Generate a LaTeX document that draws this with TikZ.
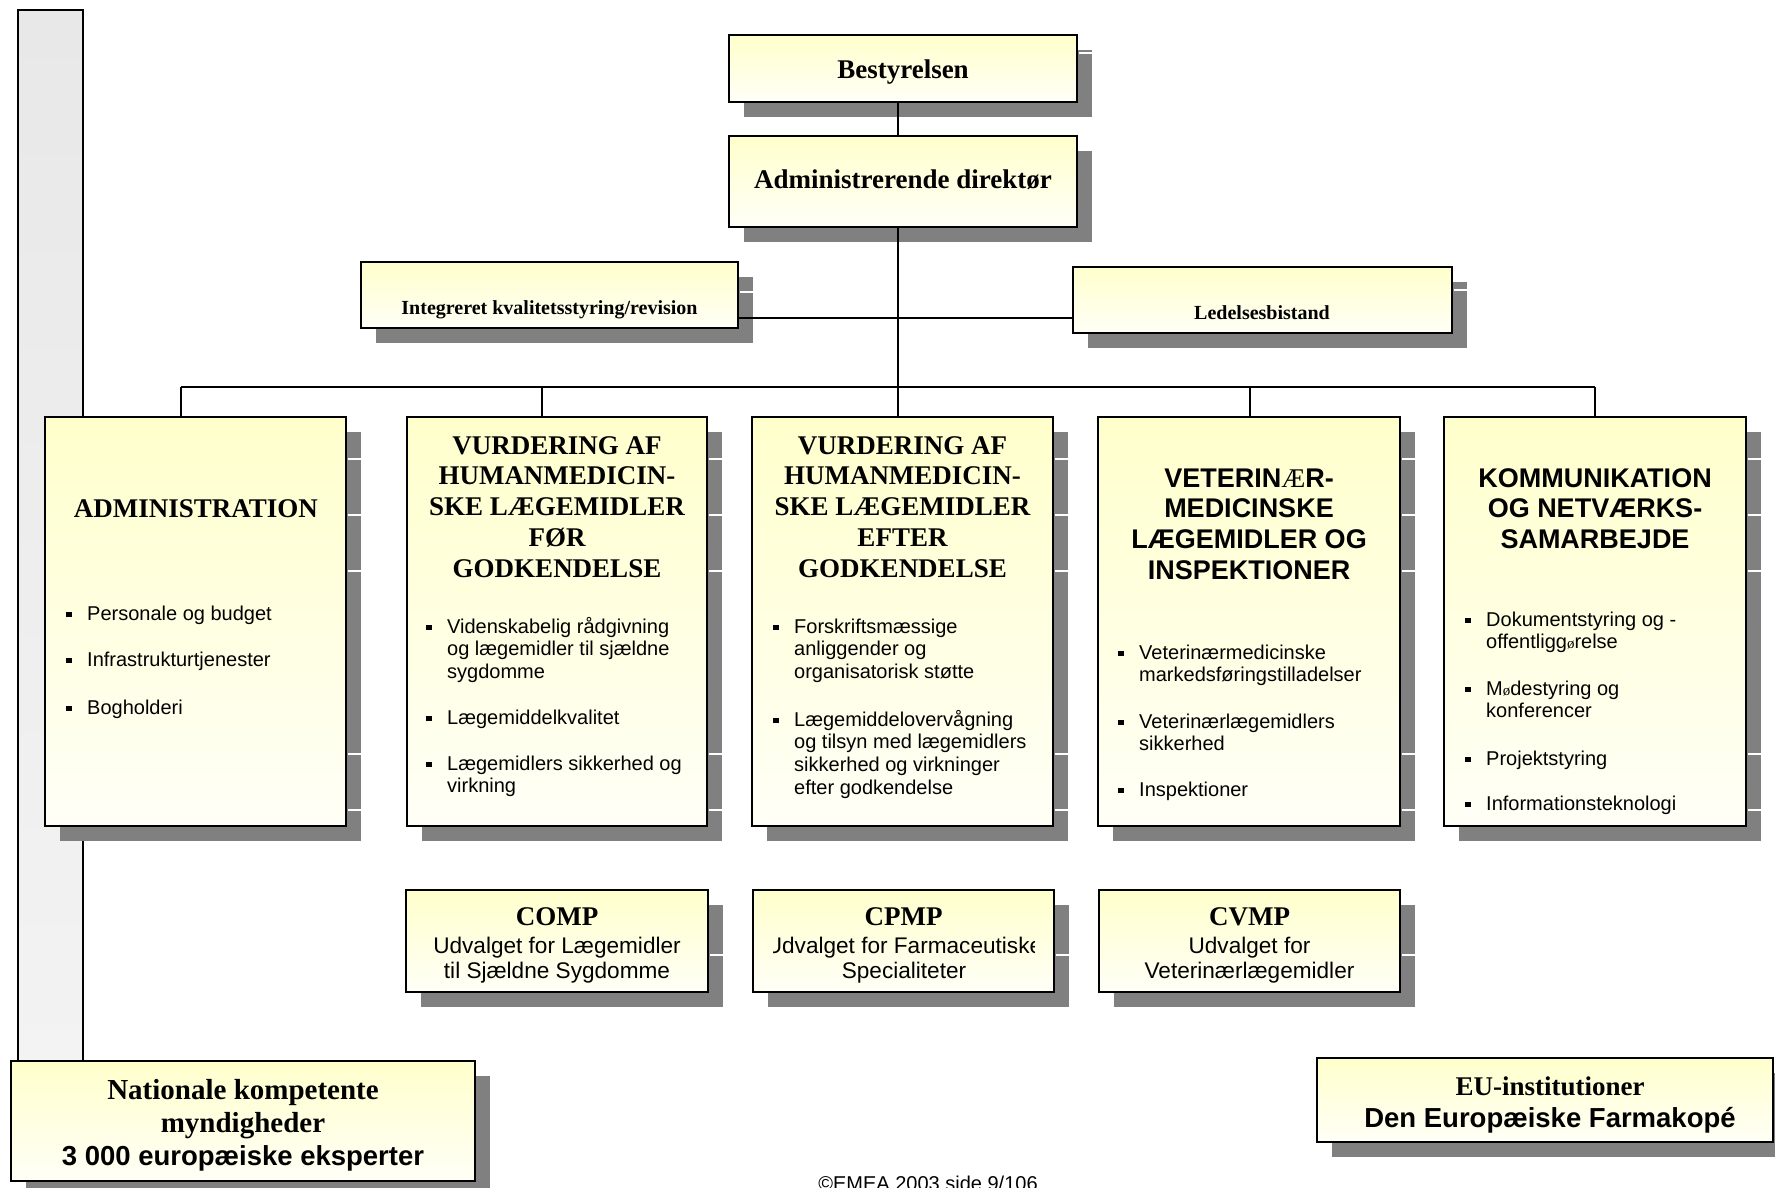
\documentclass[tikz,border=0pt]{standalone}
\usepackage{fontspec}
\setmainfont{Liberation Serif}
\newfontfamily\arial{Liberation Sans}
\usetikzlibrary{shadows}
\definecolor{boxtop}{RGB}{255,255,204}
\definecolor{boxbot}{RGB}{255,255,247}
\definecolor{shadowgray}{RGB}{128,128,128}
\definecolor{bartop}{RGB}{232,232,232}
\definecolor{barbot}{RGB}{243,243,243}
\newcommand\bul[1]{\makebox[21pt][l]{\rule[2.6pt]{5.5pt}{5.5pt}}\parbox[t]{280pt}{\raggedright #1}}
\newcommand\ctr[2]{\parbox[t]{#1}{\centering #2}}
\newcommand\smo{{\rmfamily\fontsize{15}{15}\selectfont ø}}
\begin{document}
\begin{tikzpicture}[x=1pt,y=-1pt,
  box/.style={draw=black, line width=2pt, top color=boxtop, bottom color=boxbot,
    inner sep=0pt, outer sep=0pt, anchor=north west,
    drop shadow={shadow xshift=15pt, shadow yshift=-15pt, fill=shadowgray, opacity=1}},
  bar/.style={draw=black, line width=2pt, top color=bartop, bottom color=barbot,
    inner sep=0pt, outer sep=0pt, anchor=north west},
  conn/.style={draw=black, line width=1.7pt},
  gap/.style={draw=white, line width=1.2pt},
  txt/.style={inner sep=0pt, anchor=base},
  serifttl/.style={txt, font=\bfseries\fontsize{27}{30.8}\selectfont},
  sansttl/.style={txt, font=\arial\bfseries\fontsize{27}{30.8}\selectfont},
  smallttl/.style={txt, font=\bfseries\fontsize{20}{24}\selectfont},
  blt/.style={inner sep=0pt, anchor=base west, font=\arial\fontsize{20}{22.7}\selectfont},
  ctxt/.style={txt, font=\arial\fontsize{22.6}{25}\selectfont},
]
\useasboundingbox (0,0) rectangle (1775,1188);

% left vertical bar
\node[bar, minimum width=65pt, minimum height=1060pt] (bar) at (18,10) {};

% boxes
\node[box, minimum width=348pt, minimum height=67pt] (best) at (729,35) {};
\node[box, minimum width=348pt, minimum height=91pt] (adm) at (729,136) {};
\node[box, minimum width=377pt, minimum height=66pt] (integ) at (361,262) {};
\node[box, minimum width=379pt, minimum height=66pt] (ledel) at (1073,267) {};
\node[box, minimum width=301pt, minimum height=409pt] (v1) at (45,417) {};
\node[box, minimum width=300pt, minimum height=409pt] (v2) at (407,417) {};
\node[box, minimum width=301pt, minimum height=409pt] (v3) at (752,417) {};
\node[box, minimum width=302pt, minimum height=409pt] (v4) at (1098,417) {};
\node[box, minimum width=302pt, minimum height=409pt] (v5) at (1444,417) {};
\node[box, minimum width=302pt, minimum height=102pt] (c1) at (406,890) {};
\node[box, minimum width=301pt, minimum height=102pt] (c2) at (753,890) {};
\node[box, minimum width=301pt, minimum height=102pt] (c3) at (1099,890) {};
\node[box, minimum width=464pt, minimum height=120pt] (nat) at (11,1061) {};
\node[box, minimum width=456pt, minimum height=84pt] (eu) at (1317,1058) {};

% white gaps in shadows
\foreach \b in {v1,v2,v3,v4,v5}{
  \foreach \yy in {459,515,571,754,810}{
    \draw[gap] (\b.east |- 0,\yy) ++(1.5,0) -- ++(13.5,0);
  }
}
\foreach \b in {c1,c2,c3}{\draw[gap] (\b.east |- 0,955) ++(1.5,0) -- ++(13.5,0);}
\draw[gap] (integ.east |- 0,292) ++(1.5,0) -- ++(13.5,0);
\draw[gap] (ledel.east |- 0,290) ++(1.5,0) -- ++(13.5,0);
\draw[gap] (best.east |- 0,53) ++(1.5,0) -- ++(13.5,0);

% connectors
\coordinate (j1) at (181,387);
\coordinate (j2) at (542,387);
\coordinate (tr) at (898,387);
\coordinate (j4) at (1250,387);
\coordinate (j5) at (1595,387);
\coordinate (hl) at (0,318);
\draw[conn] (best.south -| tr) -- (adm.north -| tr);
\draw[conn] (adm.south -| tr) -- (v3.north -| tr);
\draw[conn] (integ.east |- hl) -- (ledel.west |- hl);
\draw[conn] (j1) -- (j5);
\draw[conn] (j1) -- (v1.north -| j1);
\draw[conn] (j2) -- (v2.north -| j2);
\draw[conn] (j4) -- (v4.north -| j4);
\draw[conn] (j5) -- (v5.north -| j5);

% top texts
\node[serifttl] (tbest) at (903,79) {Bestyrelsen};
\node[serifttl] (tadm) at (903,189) {Administrerende direktør};
\node[smallttl] (tinteg) at (549.5,314) {Integreret kvalitetsstyring/revision};
\node[smallttl] (tledel) at (1262,319) {Ledelsesbistand};

% division titles
\node[serifttl] (t1) at (196,517) {ADMINISTRATION};
\node[serifttl] (t2) at (557,454) {\ctr{300pt}{VURDERING AF\\HUMANMEDICIN-\\SKE LÆGEMIDLER\\FØR\\GODKENDELSE}};
\node[serifttl] (t3) at (902.5,454) {\ctr{300pt}{VURDERING AF\\HUMANMEDICIN-\\SKE LÆGEMIDLER\\EFTER\\GODKENDELSE}};
\node[sansttl] (t4) at (1249,487) {\ctr{300pt}{VETERIN{\rmfamily\mdseries Æ}R-\\MEDICINSKE\\LÆGEMIDLER OG\\INSPEKTIONER}};
\node[sansttl] (t5) at (1595,487) {\ctr{300pt}{KOMMUNIKATION\\OG NETVÆRKS-\\SAMARBEJDE}};

% bullets
\node[blt] (b11) at (66,620) {\bul{Personale og budget}};
\node[blt] (b12) at (66,666) {\bul{Infrastrukturtjenester}};
\node[blt] (b13) at (66,714) {\bul{Bogholderi}};

\node[blt] (b21) at (426,633) {\bul{Videnskabelig rådgivning\\og lægemidler til sjældne\\sygdomme}};
\node[blt] (b22) at (426,724) {\bul{Lægemiddelkvalitet}};
\node[blt] (b23) at (426,770) {\bul{Lægemidlers sikkerhed og\\virkning}};

\node[blt] (b31) at (773,633) {\bul{Forskriftsmæssige\\anliggender og\\organisatorisk støtte}};
\node[blt] (b32) at (773,726) {\bul{Lægemiddelovervågning\\og tilsyn med lægemidlers\\sikkerhed og virkninger\\efter godkendelse}};

\node[blt] (b41) at (1118,659) {\bul{Veterinærmedicinske\\markedsføringstilladelser}};
\node[blt] (b42) at (1118,728) {\bul{Veterinærlægemidlers\\sikkerhed}};
\node[blt] (b43) at (1118,796) {\bul{Inspektioner}};

\node[blt] (b51) at (1465,626) {\bul{Dokumentstyring og -\\offentligg\smo relse}};
\node[blt] (b52) at (1465,695) {\bul{M\smo destyring og\\konferencer}};
\node[blt] (b53) at (1465,765) {\bul{Projektstyring}};
\node[blt] (b54) at (1465,810) {\bul{Informationsteknologi}};

% committees
\node[serifttl] (tc1) at (557,925) {COMP};
\node[ctxt] (sc1) at (557,953) {\ctr{300pt}{Udvalget for Lægemidler\\til Sjældne Sygdomme}};
\node[serifttl] (tc2) at (903.5,925) {CPMP};
\begin{scope}
  \clip (773,890) rectangle (1034,992);
  \node[ctxt] (sc2) at (904,953) {\ctr{320pt}{Udvalget for Farmaceutiske\\Specialiteter}};
\end{scope}
\node[serifttl] (tc3) at (1249.5,925) {CVMP};
\node[ctxt] (sc3) at (1249.5,953) {\ctr{300pt}{Udvalget for\\Veterinærlægemidler}};

% bottom boxes
\node[txt, font=\bfseries\fontsize{29}{33}\selectfont] (tnat) at (243,1099)
  {\ctr{450pt}{Nationale kompetente\\myndigheder\\{\arial\fontsize{27.5}{33}\selectfont 3 000 europæiske eksperter}}};
\node[txt, font=\bfseries\fontsize{27}{32}\selectfont] (teu) at (1550,1095)
  {\ctr{450pt}{EU-institutioner\\{\arial\fontsize{27.5}{32}\selectfont Den Europæiske Farmakopé}}};

% footer
\node[txt, font=\arial\fontsize{20}{24}\selectfont] (foot) at (928,1190) {©EMEA 2003 side 9/106};
\end{tikzpicture}
\end{document}
